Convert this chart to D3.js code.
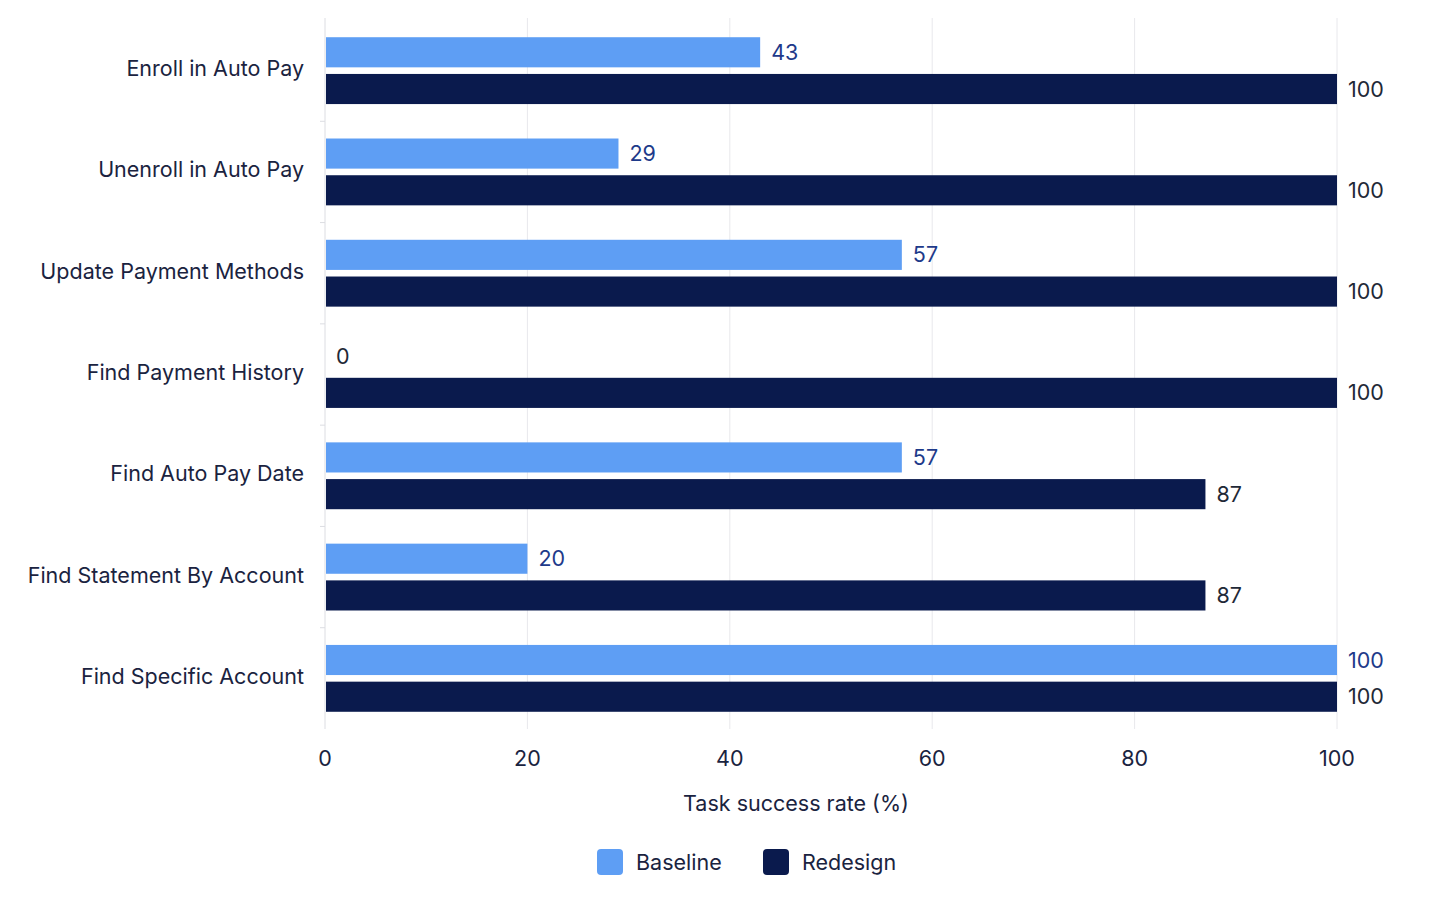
<!DOCTYPE html>
<html>
<head>
<meta charset="utf-8">
<script src="https://cdn.jsdelivr.net/npm/d3@7"></script>
<style>
  body { margin: 0; background: #fff; }
  svg { font-family: Inter, "Noto Sans", sans-serif; display: block; }
</style>
</head>
<body>
<svg width="1448" height="900"></svg>
<script>
// data
const tasks = [
  "Enroll in Auto Pay",
  "Unenroll in Auto Pay",
  "Update Payment Methods",
  "Find Payment History",
  "Find Auto Pay Date",
  "Find Statement By Account",
  "Find Specific Account"
];
const seriesNames = ["Baseline", "Redesign"];
const baseline = [43, 29, 57, 0, 57, 20, 100];
const redesign = [100, 100, 100, 100, 87, 87, 100];
const xTicks = [0, 20, 40, 60, 80, 100];

const colors = { Baseline: "#5e9ef4", Redesign: "#0a1a4d" };
const labelColors = { Baseline: "#1e3a8a", Redesign: "#1f2937" };
const fontSize = 21.5;

const svg = d3.select("svg"),
      margin = { top: 20, right: 111, bottom: 171, left: 325 },
      width = +svg.attr("width") - margin.left - margin.right,
      height = +svg.attr("height") - margin.top - margin.bottom;

const g = svg.append("g")
  .attr("transform", `translate(${margin.left},${margin.top})`);

const rows = tasks.map((t, i) => ({
  task: t,
  values: [
    { key: "Baseline", value: baseline[i] },
    { key: "Redesign", value: redesign[i] }
  ]
}));

// scales
const x = d3.scaleLinear().domain([0, 100]).range([0, width]);
const y0 = d3.scaleBand().domain(tasks).range([0, height]).paddingInner(0.34).paddingOuter(0.17);
const y1 = d3.scaleBand().domain(seriesNames).range([0, y0.bandwidth()]).paddingInner(0.18);

// gridlines
g.append("g")
  .selectAll("line")
  .data(xTicks.slice(1))
  .join("line")
  .attr("x1", d => x(d)).attr("x2", d => x(d))
  .attr("y1", -2).attr("y2", height)
  .attr("stroke", "#e8e8ec")
  .attr("stroke-width", 1);

// y axis line + separators
g.append("line")
  .attr("x1", 0).attr("x2", 0)
  .attr("y1", -2).attr("y2", height)
  .attr("stroke", "#dcdde2");

g.append("g")
  .selectAll("line")
  .data(tasks.slice(1))
  .join("line")
  .attr("x1", -5).attr("x2", 0)
  .attr("y1", d => y0(d) - y0.step() * y0.paddingInner() / 2)
  .attr("y2", d => y0(d) - y0.step() * y0.paddingInner() / 2)
  .attr("stroke", "#dcdde2");

// category labels
g.append("g")
  .selectAll("text")
  .data(tasks)
  .join("text")
  .attr("x", -21)
  .attr("y", d => y0(d) + y0.bandwidth() / 2 - 2)
  .attr("dy", "0.35em")
  .attr("text-anchor", "end")
  .attr("font-size", fontSize)
  .attr("fill", "#1a2340")
  .text(d => d);

// bars
const groups = g.selectAll(".grp")
  .data(rows)
  .join("g")
  .attr("class", "grp")
  .attr("transform", d => `translate(0,${y0(d.task)})`);

groups.selectAll("rect")
  .data(d => d.values)
  .join("rect")
  .attr("x", 1)
  .attr("y", d => y1(d.key))
  .attr("width", d => Math.max(0, x(d.value) - 1))
  .attr("height", y1.bandwidth())
  .attr("fill", d => colors[d.key]);

groups.selectAll("text")
  .data(d => d.values)
  .join("text")
  .attr("x", d => x(d.value) + 11)
  .attr("y", d => y1(d.key) + y1.bandwidth() / 2)
  .attr("dy", "0.35em")
  .attr("font-size", fontSize)
  .attr("fill", d => d.value === 0 ? labelColors.Redesign : labelColors[d.key])
  .text(d => d.value);

// x axis labels
g.append("g")
  .selectAll("text")
  .data(xTicks)
  .join("text")
  .attr("x", d => x(d))
  .attr("y", height + 29)
  .attr("dy", "0.35em")
  .attr("text-anchor", "middle")
  .attr("font-size", fontSize)
  .attr("fill", "#1a2340")
  .text(d => d);

g.append("text")
  .attr("x", width / 2 - 35)
  .attr("y", height + 74)
  .attr("dy", "0.35em")
  .attr("text-anchor", "middle")
  .attr("font-size", fontSize)
  .attr("fill", "#1a2340")
  .text("Task success rate (%)");

// legend
const legend = svg.append("g")
  .attr("transform", "translate(597,849)");

const legendItems = legend.selectAll("g")
  .data(seriesNames)
  .join("g")
  .attr("transform", (d, i) => `translate(${i * 166},0)`);

legendItems.append("rect")
  .attr("width", 26).attr("height", 26)
  .attr("rx", 4)
  .attr("fill", d => colors[d]);

legendItems.append("text")
  .attr("x", 39)
  .attr("y", 13)
  .attr("dy", "0.35em")
  .attr("font-size", fontSize)
  .attr("fill", "#1a2340")
  .text(d => d);
</script>
</body>
</html>
